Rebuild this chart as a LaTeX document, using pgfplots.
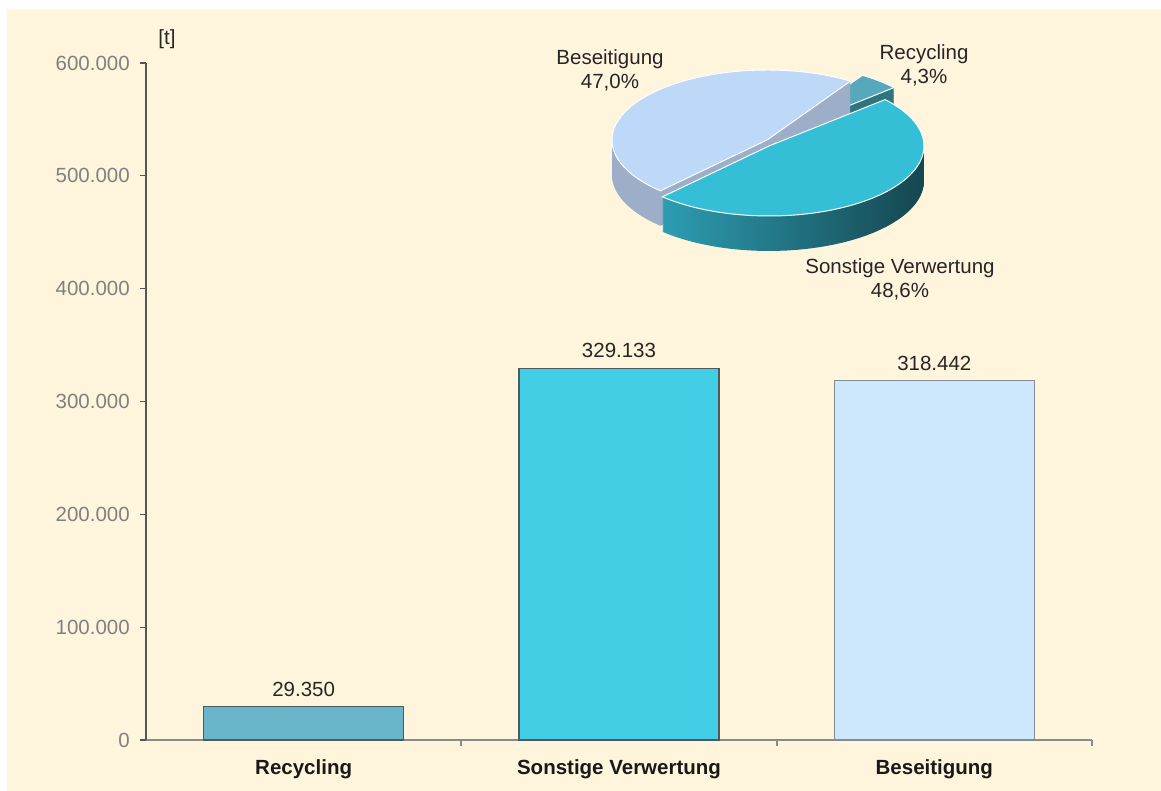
\documentclass[border=0pt]{standalone}
\usepackage{pgfplots}
\pgfplotsset{compat=1.18}
\usepackage{fontspec}
\setmainfont{Liberation Sans}
\definecolor{bg}{HTML}{FFF5DC}
\definecolor{axisgray}{HTML}{8A8A8A}
\definecolor{ydark}{HTML}{555555}
\definecolor{ticktext}{HTML}{808080}
\definecolor{bardraw}{HTML}{4F5A60}
\definecolor{recbar}{HTML}{68B4C8}
\definecolor{sonbar}{HTML}{42CFE6}
\definecolor{besbar}{HTML}{CDE7FC}
\definecolor{rectop}{HTML}{56A9BA}
\definecolor{recside}{HTML}{2F7580}
\definecolor{sontop}{HTML}{35BFD6}
\definecolor{sonsideL}{HTML}{2D9DB2}
\definecolor{sonsideR}{HTML}{15464F}
\definecolor{bestop}{HTML}{BED8F8}
\definecolor{besside}{HTML}{9DAEC8}
% pie slice: #1 cx, #2 cy, #3 from angle, #4 to angle, #5 side style, #6 top colour
\newcommand\pieslice[6]{%
  \pgfplotsinvokeforeach{0,...,35}{%
    \addplot[draw=none, #5, domain=#3:#4, samples=50, variable=\t]
      ({#1+155*cos(\t)},{#2+70*sin(\t)-35+##1}) -- (axis cs:#1,{#2-35+##1}) -- cycle;
  }
  \addplot[fill=#6, draw=white, line width=0.5pt, domain=#3:#4, samples=70, variable=\t]
    ({#1+155*cos(\t)},{#2+70*sin(\t)}) -- (axis cs:#1,#2) -- cycle;
}
\begin{document}
\fontsize{10.25}{12}\selectfont
\begin{tikzpicture}
\fill[white] (0pt,0pt) rectangle (580.5pt,395.5pt);
\fill[bg] (3.5pt,0pt) rectangle (580.5pt,391pt);
\begin{axis}[
  at={(73pt,25.5pt)}, anchor=south west, scale only axis,
  width=473pt, height=338.5pt,
  xmin=-0.5, xmax=2.5, ymin=0, ymax=600000,
  scaled y ticks=false,
  axis x line=bottom, axis y line=left,
  x axis line style={-, draw=axisgray, line width=0.9pt},
  y axis line style={-, draw=ydark, line width=0.7pt},
  tick align=outside, major tick length=3pt,
  ytick={0,100000,200000,300000,400000,500000,600000},
  yticklabels={0,100.000,200.000,300.000,400.000,500.000,600.000},
  yticklabel style={text=ticktext, xshift=-1.5pt},
  ytick style={draw=ydark, line width=0.6pt},
  xtick={0.5,1.5,2.5}, xticklabels={},
  xtick style={draw=axisgray, line width=0.9pt},
  extra x ticks={0,1,2},
  extra x tick labels={Recycling,Sonstige Verwertung,Beseitigung},
  extra x tick style={major tick length=0pt, tick label style={font=\bfseries, text=black!90, yshift=-6pt}},
  clip=false,
  nodes near coords style={text=black!85, anchor=south, yshift=1.5pt},
]
\addplot[ybar, bar width=100pt, bar shift=0pt, fill=recbar, draw=bardraw, line width=0.6pt,
  point meta=explicit symbolic, nodes near coords] coordinates {(0,29350) [29.350]};
\addplot[ybar, bar width=100pt, bar shift=0pt, fill=sonbar, draw=bardraw, line width=0.6pt,
  point meta=explicit symbolic, nodes near coords] coordinates {(1,329133) [329.133]};
\addplot[ybar, bar width=100pt, bar shift=0pt, fill=besbar, draw=bardraw!70, line width=0.6pt,
  point meta=explicit symbolic, nodes near coords] coordinates {(2,318442) [318.442]};
\end{axis}
% inset 3D pie, in picture pixel units (1161 x 791)
\begin{axis}[
  at={(0pt,0pt)}, anchor=south west, scale only axis,
  width=580.5pt, height=395.5pt,
  xmin=0, xmax=1161, ymin=0, ymax=791,
  hide axis, clip=false,
]
% shares: Recycling 4,3 %, Sonstige Verwertung 48,6 %, Beseitigung 47,0 %
% angles (3.6 deg per %), starting at 57 deg, clockwise
\pieslice{778}{657}{41.52}{57}{fill=recside}{rectop}
\pieslice{767}{651}{57.36}{226.56}{fill=besside}{bestop}
\pieslice{769}{645}{-133.44}{41.52}{left color=sonsideL, right color=sonsideR}{sontop}
\node[text=black!85] at (axis cs:167,752) {[t]};
\node[align=center, text=black!85] at (axis cs:610,721) {Beseitigung\\47,0\%};
\node[align=center, text=black!85] at (axis cs:924,726) {Recycling\\4,3\%};
\node[align=center, text=black!85] at (axis cs:900,512) {Sonstige Verwertung\\48,6\%};
\end{axis}
\end{tikzpicture}
\end{document}
